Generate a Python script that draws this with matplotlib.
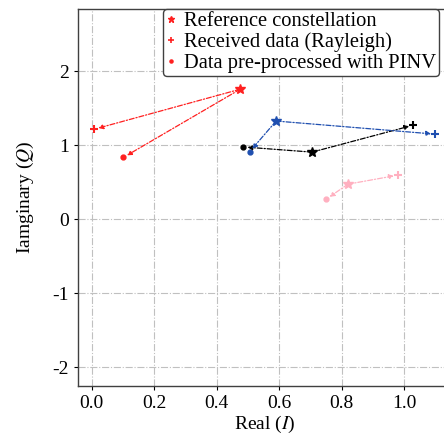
import matplotlib
matplotlib.use("Agg")
import matplotlib.pyplot as plt

# =========================
# データ (I/Q)
# =========================
colors = ["#ff2020", "#000000", "#1f4fb0", "#ffb0c0"]

ref_x = [0.475, 0.705, 0.590, 0.820]
ref_y = [1.76, 0.91, 1.33, 0.477]

rx_x = [0.008, 1.029, 1.099, 0.980]
rx_y = [1.22, 1.274, 1.153, 0.599]

pinv_x = [0.101, 0.485, 0.505, 0.750]
pinv_y = [0.838, 0.98, 0.914, 0.274]

xticks = [0.0, 0.2, 0.4, 0.6, 0.8, 1.0]
yticks = [-2, -1, 0, 1, 2]

# =========================
# スタイル
# =========================
plt.rcParams["font.family"] = ["Liberation Serif", "DejaVu Serif"]
plt.rcParams["mathtext.fontset"] = "stix"
plt.rcParams["axes.unicode_minus"] = False

fig = plt.figure(figsize=(4.44, 4.43), dpi=100)
ax = fig.add_axes([0.175, 0.1287, 0.841, 0.852])

for i in range(len(colors)):
    c = colors[i]
    for ex, ey in [(rx_x[i], rx_y[i]), (pinv_x[i], pinv_y[i])]:
        ax.annotate("", xy=(ex, ey), xytext=(ref_x[i], ref_y[i]),
                    arrowprops=dict(arrowstyle="-|>", linestyle=(0, (4, 1.5, 1, 1.5)),
                                    color=c, lw=0.9, shrinkA=0, shrinkB=3,
                                    mutation_scale=7))
    lab = i == 0
    ax.plot(ref_x[i], ref_y[i], "*", color=c, markersize=7.5,
            label="Reference constellation" if lab else None)
    ax.plot(rx_x[i], rx_y[i], "+", color=c, markersize=6, mew=1.5,
            label="Received data (Rayleigh)" if lab else None)
    ax.plot(pinv_x[i], pinv_y[i], ".", color=c, markersize=7,
            label="Data pre-processed with PINV" if lab else None)

ax.set_xlim(-0.045, 1.15)
ax.set_ylim(-2.25, 2.85)
ax.set_xticks(xticks)
ax.set_xticklabels(["%.1f" % v for v in xticks])
ax.set_yticks(yticks)
ax.set_yticklabels([str(v) for v in yticks])
ax.tick_params(labelsize=14, length=3, width=0.8, direction="out")
ax.grid(True, linestyle="-.", color="#c0c0c0", lw=0.8)
ax.set_axisbelow(True)
for s in ax.spines.values():
    s.set_color("#404040")
    s.set_linewidth(1.0)

ax.set_xlabel("Real ($I$)", fontsize=14, labelpad=1)
ax.set_ylabel("Iamginary ($Q$)", fontsize=14, labelpad=12)

leg = ax.legend(loc="upper left", bbox_to_anchor=(163 / 444, 1 - 9 / 443),
                bbox_transform=fig.transFigure, borderaxespad=0,
                fontsize=14.8, handlelength=0.5,
                handletextpad=0.35, labelspacing=0.06, borderpad=0.15,
                fancybox=True, framealpha=1, edgecolor="#404040")
leg.get_frame().set_linewidth(1.0)
for h in leg.legend_handles:
    h.set_markersize(4.5)
    if h.get_marker() == "+":
        h.set_markeredgewidth(1.2)

plt.savefig("out.png", dpi=100)
